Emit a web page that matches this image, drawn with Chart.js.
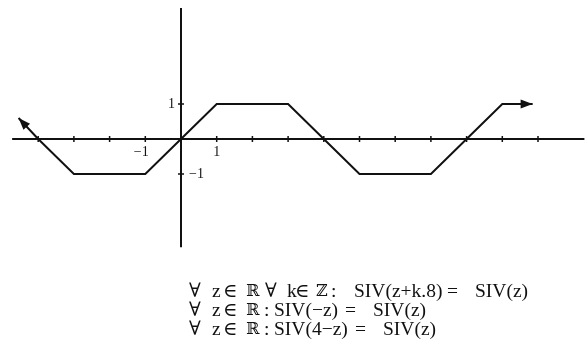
<!DOCTYPE html>
<html lang="en">
<head>
    <meta charset="UTF-8">
    <title>SIV(z)</title>
    <script src="https://cdn.jsdelivr.net/npm/chart.js"></script>
    <style>
        body {
            margin: 0;
            background: #fff;
        }
        .chart-container {
            position: relative;
            width: 587px;
            height: 347px;
        }
        .formula span {
            position: absolute;
            font-family: "Liberation Serif", "DejaVu Serif", serif;
            font-size: 19.5px;
            line-height: 1;
            color: #111;
            white-space: pre;
        }
        .formula span.bb {
            font-family: "DejaVu Serif", serif;
            font-size: 16px;
        }
    </style>
</head>
<body>
    <div class="chart-container">
        <canvas id="sivChart" width="587" height="347"></canvas>
        <div class="formula" id="formula"></div>
    </div>

    <script>
        // the trapezoid wave
        const sivZ = [-4.55, -4, -3, -1, 0, 1, 3, 4, 5, 7, 8, 9, 9.85];
        const sivValue = [0.6, 0, -1, -1, 0, 1, 1, 0, -1, -1, 0, 1, 1];

        // axes and their marks
        const xAxisRange = [-4.73, 11.3];
        const yAxisRange = [-3.09, 3.74];
        const xTicks = [-4, -3, -2, -1, 1, 2, 3, 4, 5, 6, 7, 8, 9, 10];
        const yTicks = [-1, 1];
        const xTickLabels = [{ value: 1, text: '1' }, { value: -1, text: '\u22121' }];
        const yTickLabels = [{ value: 1, text: '1' }, { value: -1, text: '\u22121' }];

        // formula lines under the graph: [text, left, baseline]
        const formulaPieces = [
            ['\u2200', 189, 297], ['z', 212, 297], ['\u2208', 223, 297], ['\u211D', 246, 297],
            ['\u2200', 265, 297], ['k', 287, 297], ['\u2208', 295, 297], ['\u2124', 316, 297],
            [':', 331, 297], ['SIV(z+k.8)', 354, 297], ['=', 447, 297], ['SIV(z)', 475, 297],
            ['\u2200', 189, 316], ['z', 212, 316], ['\u2208', 223, 316], ['\u211D', 246, 316],
            [':', 264, 316], ['SIV(\u2212z)', 274, 316], ['=', 345, 316], ['SIV(z)', 373, 316],
            ['\u2200', 189, 335], ['z', 212, 335], ['\u2208', 223, 335], ['\u211D', 246, 335],
            [':', 264, 335], ['SIV(4\u2212z)', 274, 335], ['=', 355, 335], ['SIV(z)', 383, 335]
        ];

        const formula = document.getElementById('formula');
        formulaPieces.forEach(p => {
            const span = document.createElement('span');
            span.textContent = p[0];
            if (p[0] === '\u211D' || p[0] === '\u2124') span.className = 'bb';
            span.style.left = p[1] + 'px';
            span.style.top = (p[2] - (span.className ? 14 : 16)) + 'px';
            formula.appendChild(span);
        });

        const ink = '#111';

        // draws the axes, ticks, labels and arrowheads
        const axesPlugin = {
            id: 'axesPlugin',
            beforeDatasetsDraw(chart) {
                const ctx = chart.ctx;
                const sx = chart.scales.x, sy = chart.scales.y;
                const x0 = sx.getPixelForValue(0), y0 = sy.getPixelForValue(0);
                ctx.save();
                ctx.strokeStyle = ink;
                ctx.fillStyle = ink;
                ctx.lineWidth = 2;
                ctx.beginPath();
                ctx.moveTo(sx.getPixelForValue(xAxisRange[0]), y0);
                ctx.lineTo(sx.getPixelForValue(xAxisRange[1]), y0);
                ctx.moveTo(x0, sy.getPixelForValue(yAxisRange[1]));
                ctx.lineTo(x0, sy.getPixelForValue(yAxisRange[0]));
                ctx.stroke();

                ctx.lineWidth = 1.5;
                ctx.beginPath();
                xTicks.forEach(v => {
                    const px = sx.getPixelForValue(v);
                    ctx.moveTo(px, y0 - 3);
                    ctx.lineTo(px, y0 + 3);
                });
                yTicks.forEach(v => {
                    const py = sy.getPixelForValue(v);
                    ctx.moveTo(x0 - 3, py);
                    ctx.lineTo(x0 + 3, py);
                });
                ctx.stroke();

                ctx.font = '14px "Liberation Serif", serif';
                ctx.textBaseline = 'middle';
                ctx.textAlign = 'center';
                xTickLabels.forEach(l => {
                    const px = sx.getPixelForValue(l.value);
                    ctx.fillText(l.text, px - (l.value < 0 ? 4 : 0), y0 + 13);
                });
                yTickLabels.forEach(l => {
                    const py = sy.getPixelForValue(l.value);
                    if (l.value > 0) {
                        ctx.textAlign = 'right';
                        ctx.fillText(l.text, x0 - 6, py);
                    } else {
                        ctx.textAlign = 'left';
                        ctx.fillText(l.text, x0 + 8, py);
                    }
                });
                ctx.restore();
            },
            afterDatasetsDraw(chart) {
                const ctx = chart.ctx;
                const pts = chart.getDatasetMeta(0).data;
                const heads = [[pts[1], pts[0]], [pts[pts.length - 2], pts[pts.length - 1]]];
                ctx.save();
                ctx.fillStyle = ink;
                heads.forEach(([from, tip]) => {
                    const a = Math.atan2(tip.y - from.y, tip.x - from.x);
                    const len = 12, half = 4.5;
                    const bx = tip.x - len * Math.cos(a), by = tip.y - len * Math.sin(a);
                    ctx.beginPath();
                    ctx.moveTo(tip.x, tip.y);
                    ctx.lineTo(bx - half * Math.sin(a), by + half * Math.cos(a));
                    ctx.lineTo(bx + half * Math.sin(a), by - half * Math.cos(a));
                    ctx.closePath();
                    ctx.fill();
                });
                ctx.restore();
            }
        };

        const xUnit = 35.7, yUnit = 35;
        const ctxSiv = document.getElementById('sivChart').getContext('2d');
        new Chart(ctxSiv, {
            type: 'line',
            data: {
                datasets: [{
                    label: 'SIV',
                    data: sivZ.map((z, i) => ({ x: z, y: sivValue[i] })),
                    borderColor: ink,
                    borderWidth: 2,
                    pointRadius: 0,
                    tension: 0,
                    fill: false
                }]
            },
            options: {
                responsive: false,
                animation: false,
                layout: { padding: 0 },
                scales: {
                    x: { type: 'linear', display: false, min: -181 / xUnit, max: (587 - 181) / xUnit },
                    y: { type: 'linear', display: false, min: -(347 - 139) / yUnit, max: 139 / yUnit }
                },
                plugins: {
                    legend: { display: false },
                    tooltip: { enabled: false }
                }
            },
            plugins: [axesPlugin]
        });
    </script>
</body>
</html>
